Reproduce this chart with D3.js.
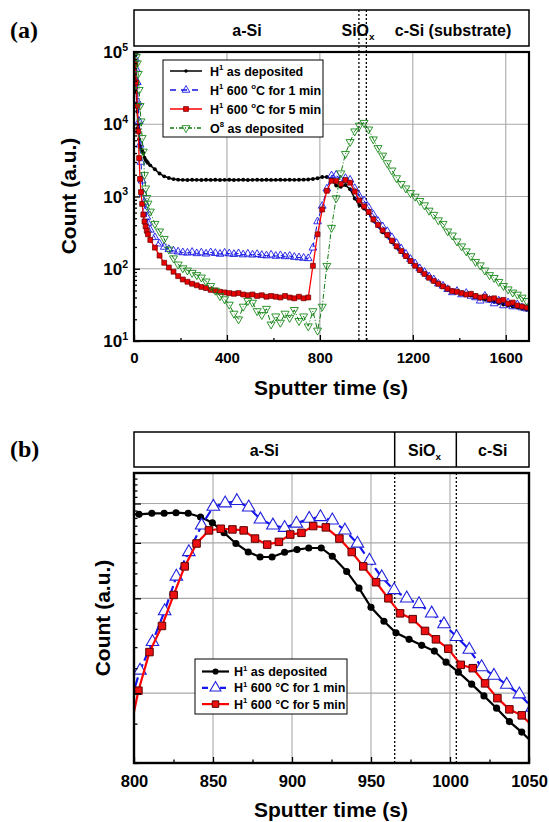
<!DOCTYPE html>
<html><head><meta charset="utf-8">
<script src="https://cdn.jsdelivr.net/npm/d3@7"></script>
<style>body{margin:0;background:#fff}</style>
</head><body>
<script>
// ---------------- DATA : panel (a) ----------------
const timeA = [2,6,10,14,18,22,26,30,35,40,45,50,55,60,
 70,90,110,130,150,170,190,210,230,250,
 270,290,310,330,350,370,390,410,430,450,
 470,490,510,530,550,570,590,610,630,650,
 670,690,710,730,750,770,790,810,830,850,
 870,890,910,930,950,970,990,1010,1030,1050,
 1070,1090,1110,1130,1150,1170,1190,1210,1230,1250,
 1270,1290,1310,1330,1350,1370,1390,1410,1430,1450,
 1470,1490,1510,1530,1550,1570,1590,1610,1630,1650,
 1670,1690];
const h1Deposited = [92000,55000,28000,15000,9000,6200,5000,4500,4300,4000,3450,3200,3050,2920,
 2700,2380,2080,1900,1800,1740,1710,1700,1695,1705,
 1700,1690,1705,1698,1702,1695,1700,1708,1696,1700,
 1703,1695,1700,1705,1698,1702,1697,1700,1706,1699,
 1702,1700,1708,1712,1720,1750,1790,1860,1865,1740,
 1420,1360,1440,1260,940,760,680,590,460,390,
 320,280,232,196,170,146,125,108,94,83,
 74,66,61,56,53,50,47.5,46,44,42.5,
 41,39,37.5,36,35,33.5,32,31,30,29,
 28,27];
const h1Anneal1 = [98000,80000,58000,38000,20000,11000,5200,3000,1650,1100,840,650,520,430,
 345,272,222,200,186,177,172,168,166,170,
 163,167,161,168,164,160,166,162,159,163,
 157,161,156,159,154,152,156,150,153,148,
 150,145,143,141,139,195,450,740,1280,1950,
 1990,1700,1790,1700,1300,1010,880,700,560,455,
 385,330,272,226,190,160,136,118,101,90,
 78,71,62,58,52,47,49,44,46,42,
 40,36,42,37,33,36,31,34,30,32,
 29,28];
const h1Anneal5 = [95000,68000,38000,18000,8000,3400,1750,1150,790,560,450,385,335,300,
 250,196,152,121,104,91,79,71,66,62,
 59,56,54,51,50,48,47,46,45,46,
 44,43,44,42,43,41,42,41,40,42,
 40,39,41,39,40,110,300,660,1200,1650,
 1640,1490,1690,1550,1170,880,730,610,482,405,
 340,295,245,205,176,150,128,110,96,85,
 75,68,62,57,53,49,48,46,44,45,
 42,40,41,38,39,36,37,33,34,31,
 30,29];
const o8Deposited = [100000,96000,86000,70000,50000,30000,18000,11000,6500,4200,2000,1300,960,800,
 620,420,330,260,185,140,115,102,95,88,
 82,76,67,58,50,42,38,32,24,20,
 30,36,34,26,23,28,17,22,18,24,
 21,27,19,22,16,26,14,30,110,370,
 950,2100,3900,5700,8000,9600,10500,8500,6200,4700,
 3700,2900,2300,1800,1500,1300,1120,1000,870,760,
 640,560,470,420,330,290,240,205,175,150,
 125,112,95,82,75,66,58,52,47,44,
 40,36];
const xTicksA = [0,400,800,1200,1600];
const xMinorA = [200,600,1000,1400];
const yTicksA = [10,100,1000,10000,100000];
const interfacesA = [968,1000];

// ---------------- DATA : panel (b) ----------------
const timeBDeposited = [795.5,803.2,811.3,819.1,826.6,834.3,842.1,849.6,857.0,864.5,872.3,879.8,887.4,895.3,903.2,910.6,918.5,925.5,934.6,942.4,950.0,958.2,965.8,974.1,982.1,990.1,997.5,1005.3,1013.7,1021.5,1029.5,1037.6,1045.4,1053];
const bDeposited = [1850,1848,1862,1862,1870,1862,1812,1738,1615,1493,1403,1353,1353,1400,1428,1445,1445,1360,1217,1077,936,846,777,741,709,680,627,583,534,490,448,406,376,345];
const timeBAnneal1 = [795.5,803.8,811.7,819.4,826.8,834.7,842.8,850.2,857.7,865.1,872.6,880.0,887.9,895.3,902.8,910.9,918.0,925.5,933.5,941.4,949.0,956.8,964.6,972.6,980.4,988.4,996.2,1004.2,1012.2,1020.0,1027.8,1035.9,1043.9,1052];
const bAnneal1 = [430,590,727,911,1173,1403,1705,1955,2004,2038,1945,1781,1705,1675,1728,1790,1812,1769,1643,1493,1318,1167,1063,1000,959,896,828,754,687,605,568,532,496,450];
const timeBAnneal5 = [795.5,802.8,809.8,817.7,825.1,832.1,839.6,847.4,854.9,862.3,869.4,876.6,884.3,891.7,898.9,906.0,913.4,921.4,930.0,937.8,945.1,953.2,961.0,968.4,976.4,984.2,991.1,998.9,1006.8,1014.4,1022.2,1030.0,1037.6,1045.4,1053];
const bAnneal5 = [340,509,675,817,1025,1263,1493,1643,1663,1655,1643,1548,1481,1511,1594,1614,1696,1680,1548,1403,1263,1125,1000,896,859,788,741,692,615,600,537,482,444,425,390];
const xTicksB = [800,850,900,950,1000,1050];
const xMinorB = [825,875,925,975,1025];
const yGridB = [500,1000,1500,2000];
const interfacesB = [965,1004];

// ---------------- DRAWING ----------------
const F = "Arial, 'Liberation Sans', Helvetica, sans-serif";
const svg = d3.select("body").append("svg").attr("width",549).attr("height",822).style("display","block");
const defs = svg.append("defs");

function rich(g, x, y, parts, size, anchor){
  const t = g.append("text").attr("x",x).attr("y",y).attr("font-family",F)
    .attr("font-weight","bold").attr("font-size",size).attr("text-anchor",anchor||"start").attr("fill","#000");
  let shift = 0;
  parts.forEach(p=>{
    const ts = t.append("tspan").text(p[0]);
    const target = p[1]==="sup" ? -size*0.42 : p[1]==="sub" ? size*0.28 : 0;
    if (target-shift !== 0) ts.attr("dy", target-shift);
    shift = target;
    if (p[1]) ts.attr("font-size", size*0.62);
  });
  return t;
}
function marker(g, kind, x, y, st){
  const types = {circle:d3.symbolCircle, tri:d3.symbolTriangle, down:d3.symbolTriangle, square:d3.symbolSquare};
  g.append("path").attr("d", d3.symbol().type(types[kind]).size(st.size)())
    .attr("transform", `translate(${x},${y})` + (kind==="down" ? " rotate(180)" : ""))
    .attr("fill", st.fill).attr("stroke", st.stroke||"none").attr("stroke-width", st.sw||1);
}
function styleAxis(g){
  g.select(".domain").remove();
  g.selectAll(".tick line").attr("stroke","#000").attr("stroke-width",1.3);
  g.selectAll("text").attr("font-family",F).attr("font-weight","bold").attr("fill","#000");
}

// ===== Panel (a) =====
const A = {l:134, r:529, t:52, b:341, bt:10, bb:46};
const xA = d3.scaleLinear().domain([0,1700]).range([A.l,A.r]);
const yA = d3.scaleLog().domain([10,100000]).range([A.b,A.t]);
const gA = svg.append("g");
defs.append("clipPath").attr("id","clipA").append("rect").attr("x",A.l).attr("y",A.t).attr("width",A.r-A.l).attr("height",A.b-A.t);

gA.append("text").attr("x",10).attr("y",38).attr("font-family","'Liberation Serif','Times New Roman',serif")
  .attr("font-weight","bold").attr("font-size",24).text("(a)");

// band
gA.append("rect").attr("x",A.l).attr("y",A.bt).attr("width",A.r-A.l).attr("height",A.bb-A.bt)
  .attr("fill","#fff").attr("stroke","#000").attr("stroke-width",1.5);
rich(gA, 247, 36, [["a-Si"]], 16, "middle");
rich(gA, 358, 36, [["SiO"],["x","sub"]], 16, "middle");
rich(gA, 453, 36, [["c-Si (substrate)"]], 16, "middle");

// grid
gA.selectAll(".gxa").data(xTicksA.slice(1)).join("line").attr("x1",d=>xA(d)).attr("x2",d=>xA(d))
  .attr("y1",A.t).attr("y2",A.b).attr("stroke","#a9a9a9").attr("stroke-width",1.1);
gA.selectAll(".gya").data(yTicksA.slice(1,4)).join("line").attr("y1",d=>yA(d)).attr("y2",d=>yA(d))
  .attr("x1",A.l).attr("x2",A.r).attr("stroke","#a9a9a9").attr("stroke-width",1.1);
// interfaces
gA.selectAll(".ia").data(interfacesA).join("line").attr("x1",d=>xA(d)).attr("x2",d=>xA(d))
  .attr("y1",A.bt).attr("y2",A.b).attr("stroke","#000").attr("stroke-width",1.3).attr("stroke-dasharray","2,2");

const seriesA = [
  {vals:h1Deposited, color:"#000", dash:null, lw:1.6, mk:"circle", ms:{size:12, fill:"#000"}},
  {vals:h1Anneal1, color:"#1010e0", dash:"5,3", lw:1, mk:"tri", ms:{size:26, fill:"none", stroke:"#1a1ae6", sw:0.9}},
  {vals:h1Anneal5, color:"#ff0000", dash:null, lw:1.3, mk:"square", ms:{size:24, fill:"#e80000", stroke:"#6a0000", sw:0.7}},
  {vals:o8Deposited, color:"#0d7a0d", dash:"5,2,1,2", lw:1, mk:"down", ms:{size:28, fill:"none", stroke:"#1b8a1b", sw:0.9}}
];
const lineA = d3.line().x(d=>xA(d[0])).y(d=>yA(d[1]));
const plotA = gA.append("g").attr("clip-path","url(#clipA)");
seriesA.forEach(s=>{
  const pts = timeA.map((t,i)=>[t,s.vals[i]]);
  plotA.append("path").datum(pts).attr("d",lineA).attr("fill","none").attr("stroke",s.color)
    .attr("stroke-width",s.lw).attr("stroke-dasharray",s.dash);
  const mg = plotA.append("g");
  pts.forEach(p=>marker(mg, s.mk, xA(p[0]), yA(p[1]), s.ms));
});

// frame
gA.append("rect").attr("x",A.l).attr("y",A.t).attr("width",A.r-A.l).attr("height",A.b-A.t)
  .attr("fill","none").attr("stroke","#000").attr("stroke-width",2.2);

// axes
const axXA = gA.append("g").attr("transform",`translate(0,${A.b})`)
  .call(d3.axisBottom(xA).tickValues(xTicksA).tickSize(-6).tickPadding(11).tickFormat(d3.format("d")));
axXA.selectAll("text").attr("font-size",15);
styleAxis(axXA);
const axXAm = gA.append("g").attr("transform",`translate(0,${A.b})`)
  .call(d3.axisBottom(xA).tickValues(xMinorA).tickSize(-3).tickFormat(""));
styleAxis(axXAm);
const minorYA = [];
for (let k=1;k<=4;k++) for (let m=2;m<=9;m++) minorYA.push(m*Math.pow(10,k));
const axYA = gA.append("g").attr("transform",`translate(${A.l},0)`)
  .call(d3.axisLeft(yA).tickValues(yTicksA).tickSize(-6).tickFormat(""));
styleAxis(axYA);
const axYAm = gA.append("g").attr("transform",`translate(${A.l},0)`)
  .call(d3.axisLeft(yA).tickValues(minorYA).tickSize(-3).tickFormat(""));
styleAxis(axYAm);
yTicksA.forEach(v=>{
  rich(gA, 128, yA(v)+6, [["10"],[String(Math.round(Math.log10(v))),"sup"]], 17, "end");
});

gA.append("text").attr("transform","translate(76,196) rotate(-90)").attr("text-anchor","middle")
  .attr("font-family",F).attr("font-weight","bold").attr("font-size",21).text("Count (a.u.)");
gA.append("text").attr("x",331).attr("y",395).attr("text-anchor","middle")
  .attr("font-family",F).attr("font-weight","bold").attr("font-size",21).text("Sputter time (s)");

// legend (a)
const legA = gA.append("g");
legA.append("rect").attr("x",163).attr("y",60).attr("width",160).attr("height",77)
  .attr("fill","#fff").attr("stroke","#000").attr("stroke-width",1);
const legTextA = [
  [["H"],["1","sup"],[" as deposited"]],
  [["H"],["1","sup"],[" 600 "],["o","sup"],["C for 1 min"]],
  [["H"],["1","sup"],[" 600 "],["o","sup"],["C for 5 min"]],
  [["O"],["8","sup"],[" as deposited"]]
];
seriesA.forEach((s,i)=>{
  const y = 71 + i*19;
  legA.append("line").attr("x1",170).attr("x2",202).attr("y1",y).attr("y2",y)
    .attr("stroke",s.color).attr("stroke-width",1.5).attr("stroke-dasharray", s.dash ? (i===1?"6,5":"4,2,1,2") : null);
  const ms = Object.assign({}, s.ms, {size: i===0 ? 9 : s.ms.size});
  marker(legA, s.mk, 186, y, ms);
  rich(legA, 210, y+4.5, legTextA[i], 12.5, "start");
});

// ===== Panel (b) =====
const B = {l:134, r:529, t:473, b:763, bt:432, bb:467};
const xB = d3.scaleLinear().domain([800,1050]).range([B.l,B.r]);
const yB = d3.scaleLog().domain([300,2500]).range([B.b,B.t]);
const gB = svg.append("g");
defs.append("clipPath").attr("id","clipB").append("rect").attr("x",B.l).attr("y",B.t).attr("width",B.r-B.l).attr("height",B.b-B.t);

gB.append("text").attr("x",10).attr("y",457).attr("font-family","'Liberation Serif','Times New Roman',serif")
  .attr("font-weight","bold").attr("font-size",24).text("(b)");

gB.append("rect").attr("x",B.l).attr("y",B.bt).attr("width",B.r-B.l).attr("height",B.bb-B.bt)
  .attr("fill","#fff").attr("stroke","#000").attr("stroke-width",1.5);
gB.selectAll(".bd").data(interfacesB).join("line").attr("x1",d=>xB(d)).attr("x2",d=>xB(d))
  .attr("y1",B.bt).attr("y2",B.bb).attr("stroke","#000").attr("stroke-width",1.5);
rich(gB, (xB(800)+xB(interfacesB[0]))/2, 456, [["a-Si"]], 16, "middle");
rich(gB, (xB(interfacesB[0])+xB(interfacesB[1]))/2 - 1, 456, [["SiO"],["x","sub"]], 16, "middle");
rich(gB, (xB(interfacesB[1])+xB(1050))/2, 456, [["c-Si"]], 16, "middle");

gB.selectAll(".gxb").data(xTicksB.slice(1,5)).join("line").attr("x1",d=>xB(d)).attr("x2",d=>xB(d))
  .attr("y1",B.t).attr("y2",B.b).attr("stroke","#a9a9a9").attr("stroke-width",1.1);
gB.selectAll(".gyb").data(yGridB).join("line").attr("y1",d=>yB(d)).attr("y2",d=>yB(d))
  .attr("x1",B.l).attr("x2",B.r).attr("stroke","#a9a9a9").attr("stroke-width",1.1);
gB.selectAll(".ib").data(interfacesB).join("line").attr("x1",d=>xB(d)).attr("x2",d=>xB(d))
  .attr("y1",B.t).attr("y2",B.b).attr("stroke","#000").attr("stroke-width",1.3).attr("stroke-dasharray","2,2");

const seriesB = [
  {t:timeBDeposited, vals:bDeposited, color:"#000", dash:null, mk:"circle", ms:{size:40, fill:"#000"}},
  {t:timeBAnneal1, vals:bAnneal1, color:"#1515ee", dash:"10,4", mk:"tri", ms:{size:68, fill:"#fff", stroke:"#2020dd", sw:1.1}},
  {t:timeBAnneal5, vals:bAnneal5, color:"#ff0000", dash:null, mk:"square", ms:{size:56, fill:"#ee1010", stroke:"#5a0000", sw:1}}
];
const lineB = d3.line().x(d=>xB(d[0])).y(d=>yB(d[1]));
const plotB = gB.append("g").attr("clip-path","url(#clipB)");
seriesB.forEach(s=>{
  const pts = s.t.map((t,i)=>[t,s.vals[i]]);
  plotB.append("path").datum(pts).attr("d",lineB).attr("fill","none").attr("stroke",s.color)
    .attr("stroke-width",2.2).attr("stroke-dasharray",s.dash);
  const mg = plotB.append("g");
  pts.forEach(p=>marker(mg, s.mk, xB(p[0]), yB(p[1]), s.ms));
});

gB.append("rect").attr("x",B.l).attr("y",B.t).attr("width",B.r-B.l).attr("height",B.b-B.t)
  .attr("fill","none").attr("stroke","#000").attr("stroke-width",2.4);

const axXB = gB.append("g").attr("transform",`translate(0,${B.b})`)
  .call(d3.axisBottom(xB).tickValues(xTicksB).tickSize(-6).tickPadding(12).tickFormat(d3.format("d")));
axXB.selectAll("text").attr("font-size",16.5);
styleAxis(axXB);
const axXBm = gB.append("g").attr("transform",`translate(0,${B.b})`)
  .call(d3.axisBottom(xB).tickValues(xMinorB).tickSize(-3.5).tickFormat(""));
styleAxis(axXBm);
const axYB = gB.append("g").attr("transform",`translate(${B.l},0)`)
  .call(d3.axisLeft(yB).tickValues(yGridB).tickSize(-7).tickFormat(""));
styleAxis(axYB);
const axYBm = gB.append("g").attr("transform",`translate(${B.l},0)`)
  .call(d3.axisLeft(yB).tickValues(d3.range(300,2501,100).filter(v=>v%500)).tickSize(-3.5).tickFormat(""));
styleAxis(axYBm);

gB.append("text").attr("transform","translate(110,618) rotate(-90)").attr("text-anchor","middle")
  .attr("font-family",F).attr("font-weight","bold").attr("font-size",21).text("Count (a.u.)");
gB.append("text").attr("x",331).attr("y",817).attr("text-anchor","middle")
  .attr("font-family",F).attr("font-weight","bold").attr("font-size",21).text("Sputter time (s)");

const legB = gB.append("g");
legB.append("rect").attr("x",195).attr("y",659).attr("width",152).attr("height",55)
  .attr("fill","#fff").attr("stroke","#000").attr("stroke-width",1);
const legTextB = [
  [["H"],["1","sup"],[" as deposited"]],
  [["H"],["1","sup"],[" 600 °C for 1 min"]],
  [["H"],["1","sup"],[" 600 °C for 5 min"]]
];
seriesB.forEach((s,i)=>{
  const y = 671.5 + i*16.3;
  legB.append("line").attr("x1",202).attr("x2",229).attr("y1",y).attr("y2",y)
    .attr("stroke",s.color).attr("stroke-width",2.2).attr("stroke-dasharray", s.dash ? "6,12,6" : null);
  const ms = Object.assign({}, s.ms, {size: s.ms.size*0.75});
  marker(legB, s.mk, 215.5, y, ms);
  rich(legB, 234, y+4.5, legTextB[i], 12.5, "start");
});
</script>
</body></html>
